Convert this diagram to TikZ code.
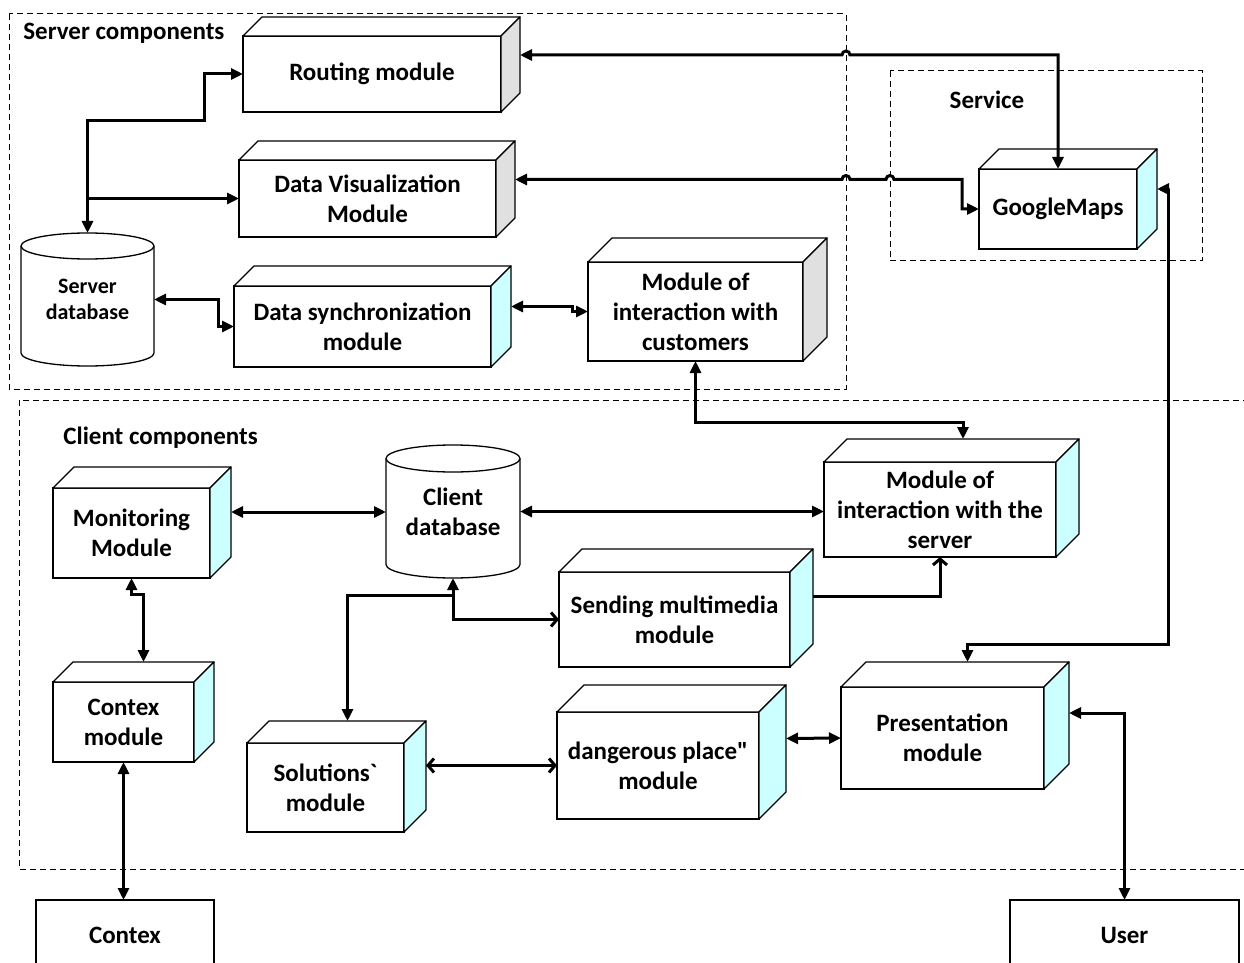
\documentclass[tikz,border=0pt]{standalone}
\usepackage{fontspec}
\setmainfont{Carlito}
\usetikzlibrary{arrows.meta,backgrounds}

\definecolor{sidegrey}{RGB}{224,224,224}
\definecolor{sidecyan}{RGB}{204,255,255}

\begin{document}
\begin{tikzpicture}[
    x=0.5pt, y=-0.5pt,
    font=\bfseries\fontsize{12.5}{15}\selectfont,
    module/.style={rectangle, draw, fill=white, line width=0.65pt, align=center, inner sep=0pt, outer sep=0pt},
    dbase/.style={rectangle, align=center, inner sep=0pt, outer sep=0pt},
    title/.style={inner sep=0pt},
    face/.style={line width=0.65pt, line join=round},
    group/.style={draw, dash pattern=on 3pt off 2pt, line width=0.5pt},
    conn/.style={line width=1.5pt},
    solidtip/.tip={Triangle[length=6pt, width=5.5pt]},
    opentip/.tip={Straight Barb[length=3pt, width=7pt]}
]
\useasboundingbox (0,0) rectangle (1244,963);
\clip (0,0) rectangle (1244,963);

% dashed frames
\draw[group] (9,14) rectangle (846,389);
\draw[group] (890,71) rectangle (1202,261);
\draw[group] (19,400) rectangle (1260,869);
\node[title, anchor=west] (srvlabel) at (23,33) {Server components};
\node[title] (svclabel) at (987,100) {Service};
\node[title, anchor=west] (clilabel) at (63,438) {Client components};

% server components
\node[module, minimum width=129pt, minimum height=38pt] (route) at (372,74) {Routing module};
\node[module, minimum width=128.5pt, minimum height=38.5pt] (vis) at (367.5,198.5) {Data Visualization\\Module};
\node[module, minimum width=128.5pt, minimum height=40.5pt] (sync) at (362.5,326.5) {Data synchronization\\module};
\node[module, minimum width=107.5pt, minimum height=49.5pt] (cust) at (695.5,311.5) {Module of\\interaction with\\customers};
\node[dbase, minimum width=66.5pt, minimum height=66.5pt, font=\bfseries\fontsize{11}{13}\selectfont] (sdb) at (87.5,299.5) {Server\\database};

% service
\node[module, minimum width=79pt, minimum height=40pt] (gmaps) at (1058,209) {GoogleMaps};

% client components
\node[module, minimum width=78.5pt, minimum height=45pt] (monit) at (131.5,533) {Monitoring\\Module};
\node[module, minimum width=70.5pt, minimum height=40pt] (ctxm) at (123.5,722) {Contex\\module};
\node[module, minimum width=78.5pt, minimum height=44.5pt] (sol) at (325.5,787.5) {Solutions\textasciigrave\\module};
\node[module, minimum width=115.5pt, minimum height=47.5pt] (send) at (674.5,619.5) {Sending multimedia\\module};
\node[module, minimum width=101pt, minimum height=53.5pt] (dang) at (658,765.5) {dangerous place\textquotedbl\\module};
\node[module, minimum width=101.5pt, minimum height=51pt] (pres) at (942.5,738) {Presentation\\module};
\node[module, minimum width=116pt, minimum height=47.5pt] (srvi) at (940,509.5) {Module of\\interaction with the\\server};
\node[dbase, minimum width=67pt, minimum height=66.5pt] (cdb) at (453,511.5) {Client\\database};

% outside actors
\node[module, minimum width=89pt, minimum height=35pt] (ctx) at (125,935) {Contex};
\node[module, minimum width=114.5pt, minimum height=35pt] (user) at (1124.5,935) {User};

% top and side faces of the blocks
\foreach \n/\d/\c in {route/19/sidegrey, vis/19/sidegrey, sync/20/sidecyan, cust/24/sidegrey,
    gmaps/20/sidecyan, monit/21/sidecyan, ctxm/20/sidecyan, sol/22/sidecyan,
    send/23/sidecyan, dang/27/sidecyan, pres/25/sidecyan, srvi/23/sidecyan} {
  \filldraw[face, fill=white] (\n.north west) -- ++(\d,-\d) -- ([shift={(\d,-\d)}]\n.north east) -- (\n.north east) -- cycle;
  \filldraw[face, fill=\c] (\n.north east) -- ++(\d,-\d) -- ([shift={(\d,-\d)}]\n.south east) -- (\n.south east) -- cycle;
  \coordinate (\n-side) at ([shift={(\d,-\d)}]\n.east);
  \coordinate (\n-top) at ([shift={(\d,-\d)}]\n.north);
}

% database cylinders
\begin{scope}[on background layer]
\foreach \n/\rx/\ry in {sdb/33.25pt/6.5pt, cdb/33.5pt/6.75pt} {
  \filldraw[face, fill=white] ([yshift=-\ry]\n.north west) -- ([yshift=\ry]\n.south west)
    arc[start angle=180, end angle=360, x radius=\rx, y radius=\ry]
    -- ([yshift=-\ry]\n.north east)
    arc[start angle=0, end angle=180, x radius=\rx, y radius=\ry] -- cycle;
  \draw[face] ([yshift=-\ry]\n.north west) arc[start angle=180, end angle=360, x radius=\rx, y radius=\ry];
}
\end{scope}

% server links
\draw[conn, solidtip-solidtip] (route.west) -| (204,121) -| (sdb.north);
\draw[conn, -solidtip] (sdb.north |- vis.west) -- (vis.west);
\draw[conn, solidtip-solidtip] (sdb.east) -- ++(64,0) |- (sync.west);
\draw[conn, solidtip-solidtip] (sync-side) -- ++(61,0) |- (cust.west);

% links to GoogleMaps, hopping over the frames
\draw[conn, solidtip-solidtip] (route-side) -- (842,55) arc[start angle=180, end angle=0, radius=2pt] -| (gmaps.north);
\draw[conn, solidtip-solidtip] (vis-side) -- (842,179.5) arc[start angle=180, end angle=0, radius=2pt]
    -- (886,179.5) arc[start angle=180, end angle=0, radius=2pt] -- (962,179.5) |- (gmaps.west);
\draw[conn, solidtip-solidtip] (gmaps-side) -| (1168,644) -| (pres-top);
\draw[conn, solidtip-solidtip] (cust.south) -- ++(0,61) -| (srvi-top);

% client links
\draw[conn, solidtip-solidtip] (monit-side) -- (monit-side -| cdb.west);
\draw[conn, solidtip-solidtip] (cdb.east) -- (cdb.east -| srvi.west);
\draw[conn, solidtip-solidtip] (monit.south) -- ++(0,16) -| (ctxm-top);
\draw[conn, solidtip-solidtip] (ctxm.south) -- (ctxm.south |- ctx.north);
\draw[conn, solidtip-opentip] (cdb.south) |- (send.west);
\draw[conn, -solidtip] (cdb.south) ++(0,17) -| (sol-top);
\draw[conn, -opentip] (send-side) -| (srvi.south);
\draw[conn, opentip-opentip] (sol-side) -- (dang.west);
\draw[conn, solidtip-solidtip] (dang-side) -- (pres.west);
\draw[conn, solidtip-solidtip] (pres-side) -| (user.north);
\end{tikzpicture}
\end{document}
